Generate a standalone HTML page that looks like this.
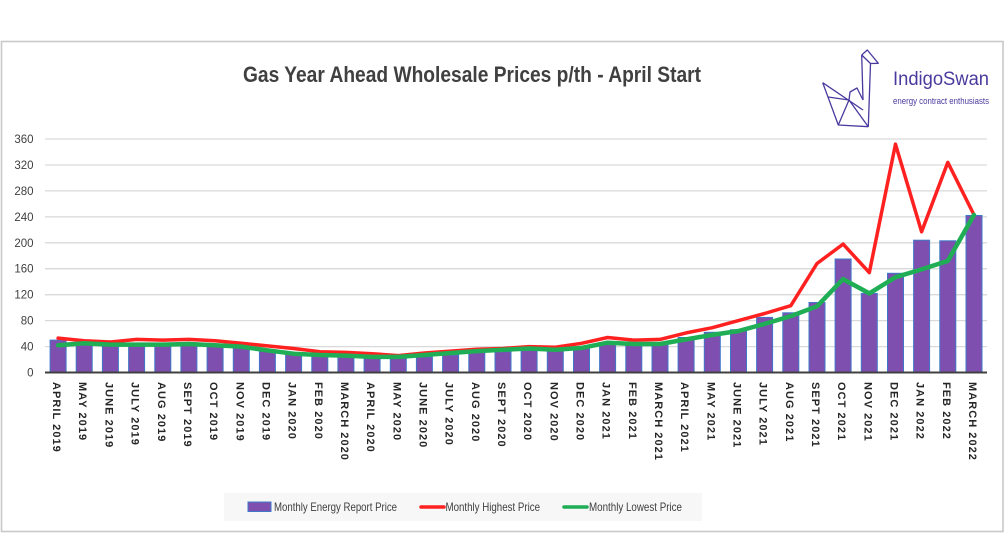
<!DOCTYPE html>
<html>
<head>
<meta charset="utf-8">
<style>
  html,body{margin:0;padding:0;background:#fff;}
  body{width:1005px;height:533px;overflow:hidden;}
  svg{display:block;}
  text{font-family:"Liberation Sans",sans-serif;}
</style>
</head>
<body>
<svg width="1005" height="533" viewBox="0 0 1005 533" xmlns="http://www.w3.org/2000/svg">
  <rect x="0" y="0" width="1005" height="533" fill="#fff"/>
  <!-- outer frame -->
  <rect x="1.5" y="41.5" width="1001.5" height="490" fill="none" stroke="#C9C9C9" stroke-width="1.6"/>

  <!-- title -->
  <text x="243" y="82" font-size="22" font-weight="bold" fill="#404040" textLength="458" lengthAdjust="spacingAndGlyphs">Gas Year Ahead Wholesale Prices p/th - April Start</text>

  <!-- logo -->
  <g fill="none" stroke="#4A3A9E" stroke-width="1.3" stroke-linejoin="round">
    <polyline points="861.7,55 867.3,50 878.3,63.3 870.5,63.5 861.7,55"/>
    <line x1="861.7" y1="55" x2="863" y2="100"/>
    <line x1="870.5" y1="63.5" x2="868.3" y2="126.7"/>
    <polyline points="822.7,82.7 838.3,125 868.3,126.7"/>
    <line x1="822.7" y1="82.7" x2="863" y2="110"/>
    <polyline points="838.3,125 849,100 868.3,126.7"/>
    <polyline points="849,100 850,92 857,88 863,100"/>
    <line x1="828" y1="97" x2="849" y2="100"/>
  </g>
  <text x="893" y="85" font-family="'DejaVu Serif','Liberation Serif',serif" font-size="19" fill="#4A3A9E" textLength="96" lengthAdjust="spacingAndGlyphs">IndigoSwan</text>
  <text x="893" y="104" font-size="9" fill="#4A3A9E" textLength="96" lengthAdjust="spacingAndGlyphs">energy contract enthusiasts</text>

  <!-- gridlines -->
  <g stroke="#D9D9D9" stroke-width="1.3">
    <line x1="45" y1="346.6" x2="987" y2="346.6"/>
    <line x1="45" y1="320.6" x2="987" y2="320.6"/>
    <line x1="45" y1="294.7" x2="987" y2="294.7"/>
    <line x1="45" y1="268.7" x2="987" y2="268.7"/>
    <line x1="45" y1="242.8" x2="987" y2="242.8"/>
    <line x1="45" y1="216.9" x2="987" y2="216.9"/>
    <line x1="45" y1="190.9" x2="987" y2="190.9"/>
    <line x1="45" y1="165.0" x2="987" y2="165.0"/>
    <line x1="45" y1="139.0" x2="987" y2="139.0"/>
  </g>

  <!-- y labels -->
  <g font-size="11.5" fill="#404040" text-anchor="end">
    <text x="33.5" y="376.5">0</text>
    <text x="33.5" y="350.6">40</text>
    <text x="33.5" y="324.6">80</text>
    <text x="33.5" y="298.7">120</text>
    <text x="33.5" y="272.7">160</text>
    <text x="33.5" y="246.8">200</text>
    <text x="33.5" y="220.9">240</text>
    <text x="33.5" y="194.9">280</text>
    <text x="33.5" y="169.0">320</text>
    <text x="33.5" y="143.0">360</text>
  </g>

  <!-- bars -->
  <g fill="#7F4FAF" stroke="#3F78C8" stroke-width="1">
    <rect x="50.1" y="340.1" width="16" height="31.9"/>
    <rect x="76.2" y="343.3" width="16" height="28.7"/>
    <rect x="102.4" y="344.6" width="16" height="27.4"/>
    <rect x="128.6" y="344.0" width="16" height="28.0"/>
    <rect x="154.8" y="344.0" width="16" height="28.0"/>
    <rect x="180.9" y="343.3" width="16" height="28.7"/>
    <rect x="207.1" y="344.6" width="16" height="27.4"/>
    <rect x="233.3" y="346.6" width="16" height="25.4"/>
    <rect x="259.4" y="349.8" width="16" height="22.2"/>
    <rect x="285.6" y="353.0" width="16" height="19.0"/>
    <rect x="311.8" y="356.3" width="16" height="15.7"/>
    <rect x="337.9" y="356.9" width="16" height="15.1"/>
    <rect x="364.1" y="358.2" width="16" height="13.8"/>
    <rect x="390.3" y="358.2" width="16" height="13.8"/>
    <rect x="416.4" y="356.9" width="16" height="15.1"/>
    <rect x="442.6" y="355.0" width="16" height="17.0"/>
    <rect x="468.8" y="352.4" width="16" height="19.6"/>
    <rect x="495.0" y="351.7" width="16" height="20.3"/>
    <rect x="521.1" y="349.2" width="16" height="22.8"/>
    <rect x="547.3" y="349.8" width="16" height="22.2"/>
    <rect x="573.5" y="348.5" width="16" height="23.5"/>
    <rect x="599.6" y="342.7" width="16" height="29.3"/>
    <rect x="625.8" y="342.7" width="16" height="29.3"/>
    <rect x="652.0" y="344.6" width="16" height="27.4"/>
    <rect x="678.1" y="337.5" width="16" height="34.5"/>
    <rect x="704.3" y="332.3" width="16" height="39.7"/>
    <rect x="730.5" y="329.7" width="16" height="42.3"/>
    <rect x="756.6" y="317.4" width="16" height="54.6"/>
    <rect x="782.8" y="312.8" width="16" height="59.2"/>
    <rect x="809.0" y="302.5" width="16" height="69.5"/>
    <rect x="835.1" y="259.0" width="16" height="113.0"/>
    <rect x="861.3" y="293.4" width="16" height="78.6"/>
    <rect x="887.5" y="273.3" width="16" height="98.7"/>
    <rect x="913.6" y="240.2" width="16" height="131.8"/>
    <rect x="939.8" y="240.8" width="16" height="131.2"/>
    <rect x="966.0" y="215.5" width="16" height="156.5"/>
  </g>

  <!-- x axis -->
  <line x1="45" y1="372.5" x2="987" y2="372.5" stroke="#404040" stroke-width="2"/>

  <!-- red line -->
  <polyline fill="none" stroke="#FF2020" stroke-width="3.5" stroke-linejoin="round" stroke-linecap="round"
    points="58.1,338.1 84.2,340.7 110.4,342.0 136.6,339.4 162.8,340.1 188.9,339.4 215.1,340.7 241.3,343.3 267.4,345.9 293.6,348.5 319.8,351.7 345.9,352.4 372.1,353.7 398.3,355.6 424.4,353.0 450.6,351.1 476.8,349.2 503.0,348.5 529.1,346.6 555.3,347.2 581.5,343.3 607.6,337.5 633.8,340.1 660.0,339.4 686.1,332.9 712.3,327.7 738.5,320.6 764.6,313.5 790.8,305.7 817.0,263.5 843.1,244.1 869.3,272.6 895.5,144.2 921.6,231.8 947.8,162.4 974.0,214.9"/>

  <!-- green line -->
  <polyline fill="none" stroke="#1FAE55" stroke-width="4.5" stroke-linejoin="round" stroke-linecap="round"
    points="58.1,345.3 84.2,343.3 110.4,344.6 136.6,344.6 162.8,344.6 188.9,344.0 215.1,345.3 241.3,346.6 267.4,350.4 293.6,353.7 319.8,355.0 345.9,355.6 372.1,356.9 398.3,356.9 424.4,355.0 450.6,353.0 476.8,351.1 503.0,349.8 529.1,348.5 555.3,349.8 581.5,347.9 607.6,342.7 633.8,344.0 660.0,344.0 686.1,339.4 712.3,334.9 738.5,331.0 764.6,323.9 790.8,316.1 817.0,306.3 843.1,279.1 869.3,293.4 895.5,277.2 921.6,269.4 947.8,260.9 974.0,214.9"/>

  <!-- x labels -->
  <g font-family="'Liberation Sans',sans-serif" font-size="11" font-weight="bold" fill="#262626" letter-spacing="1.05">
    <text transform="translate(53.1,382) rotate(90)">APRIL 2019</text>
    <text transform="translate(79.2,382) rotate(90)">MAY 2019</text>
    <text transform="translate(105.4,382) rotate(90)">JUNE 2019</text>
    <text transform="translate(131.6,382) rotate(90)">JULY 2019</text>
    <text transform="translate(157.8,382) rotate(90)">AUG 2019</text>
    <text transform="translate(183.9,382) rotate(90)">SEPT 2019</text>
    <text transform="translate(210.1,382) rotate(90)">OCT 2019</text>
    <text transform="translate(236.3,382) rotate(90)">NOV 2019</text>
    <text transform="translate(262.4,382) rotate(90)">DEC 2019</text>
    <text transform="translate(288.6,382) rotate(90)">JAN 2020</text>
    <text transform="translate(314.8,382) rotate(90)">FEB 2020</text>
    <text transform="translate(340.9,382) rotate(90)">MARCH 2020</text>
    <text transform="translate(367.1,382) rotate(90)">APRIL 2020</text>
    <text transform="translate(393.3,382) rotate(90)">MAY 2020</text>
    <text transform="translate(419.4,382) rotate(90)">JUNE 2020</text>
    <text transform="translate(445.6,382) rotate(90)">JULY 2020</text>
    <text transform="translate(471.8,382) rotate(90)">AUG 2020</text>
    <text transform="translate(498.0,382) rotate(90)">SEPT 2020</text>
    <text transform="translate(524.1,382) rotate(90)">OCT 2020</text>
    <text transform="translate(550.3,382) rotate(90)">NOV 2020</text>
    <text transform="translate(576.5,382) rotate(90)">DEC 2020</text>
    <text transform="translate(602.6,382) rotate(90)">JAN 2021</text>
    <text transform="translate(628.8,382) rotate(90)">FEB 2021</text>
    <text transform="translate(655.0,382) rotate(90)">MARCH 2021</text>
    <text transform="translate(681.1,382) rotate(90)">APRIL 2021</text>
    <text transform="translate(707.3,382) rotate(90)">MAY 2021</text>
    <text transform="translate(733.5,382) rotate(90)">JUNE 2021</text>
    <text transform="translate(759.6,382) rotate(90)">JULY 2021</text>
    <text transform="translate(785.8,382) rotate(90)">AUG 2021</text>
    <text transform="translate(812.0,382) rotate(90)">SEPT 2021</text>
    <text transform="translate(838.1,382) rotate(90)">OCT 2021</text>
    <text transform="translate(864.3,382) rotate(90)">NOV 2021</text>
    <text transform="translate(890.5,382) rotate(90)">DEC  2021</text>
    <text transform="translate(916.6,382) rotate(90)">JAN 2022</text>
    <text transform="translate(942.8,382) rotate(90)">FEB 2022</text>
    <text transform="translate(969.0,382) rotate(90)">MARCH 2022</text>
  </g>

  <!-- legend -->
  <rect x="224" y="493" width="478" height="28" fill="#F7F7F7"/>
  <rect x="248" y="502" width="23" height="9.5" fill="#7F4FAF" stroke="#3F78C8" stroke-width="1"/>
  <text x="274" y="511" font-size="12" fill="#404040" textLength="123" lengthAdjust="spacingAndGlyphs">Monthly Energy Report Price</text>
  <line x1="421" y1="507" x2="444" y2="507" stroke="#FF2020" stroke-width="3.5" stroke-linecap="round"/>
  <text x="445.5" y="511" font-size="12" fill="#404040" textLength="94.5" lengthAdjust="spacingAndGlyphs">Monthly Highest Price</text>
  <line x1="564" y1="507" x2="587" y2="507" stroke="#1FAE55" stroke-width="3.5" stroke-linecap="round"/>
  <text x="589" y="511" font-size="12" fill="#404040" textLength="93" lengthAdjust="spacingAndGlyphs">Monthly Lowest Price</text>
</svg>
</body>
</html>
